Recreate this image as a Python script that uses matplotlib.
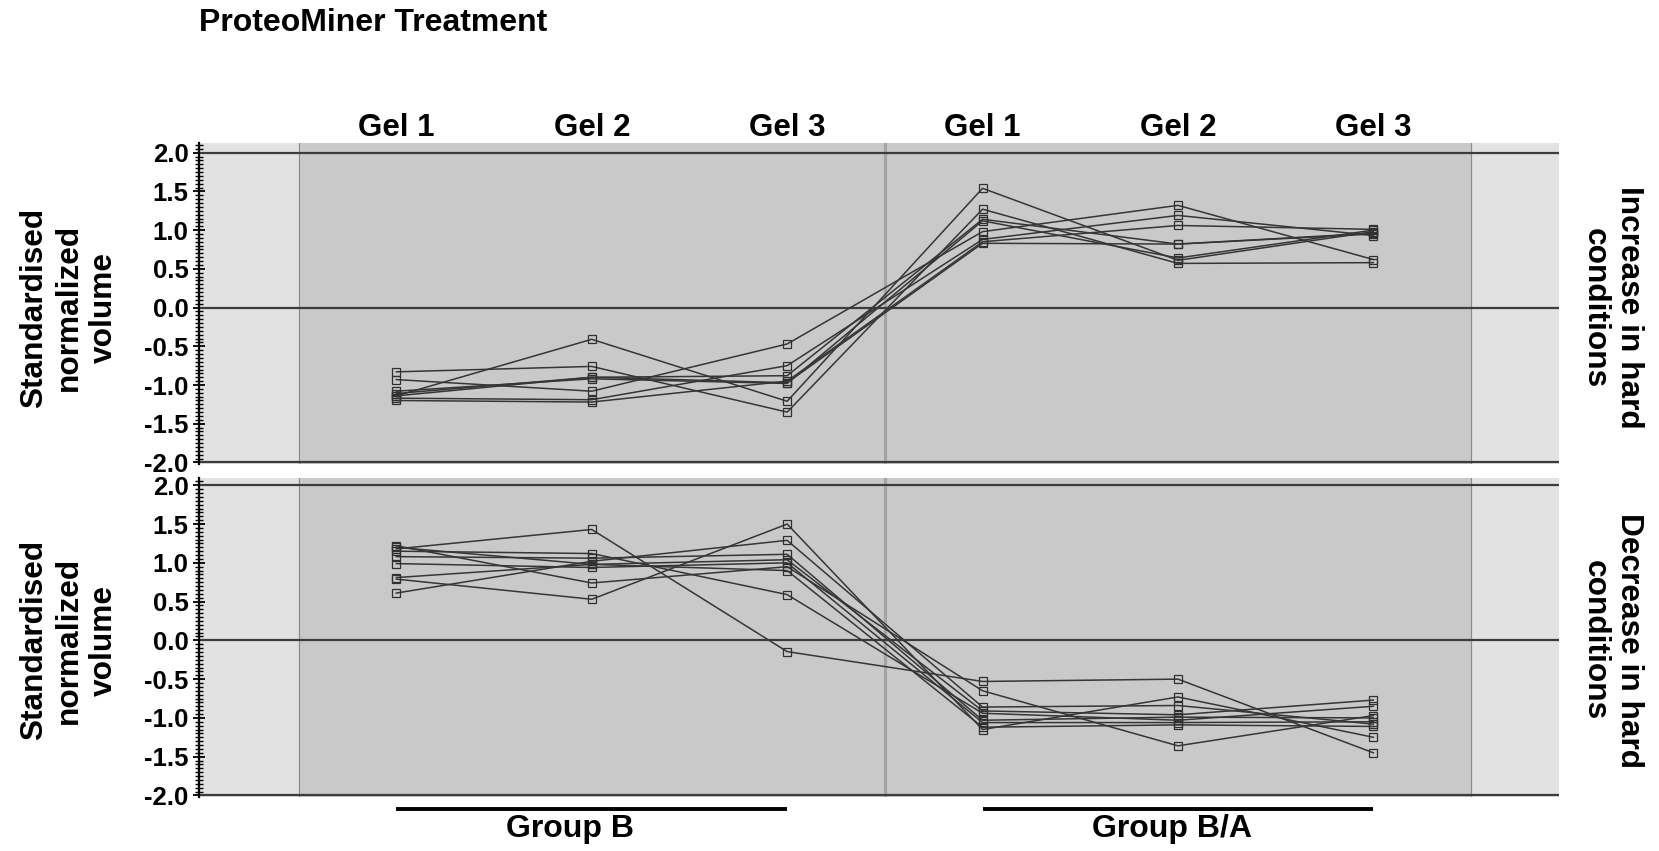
import numpy as np
import matplotlib
matplotlib.use("Agg")
from matplotlib import pyplot as plt
from matplotlib.ticker import MultipleLocator
from matplotlib.lines import Line2D
from matplotlib.transforms import blended_transform_factory

plt.rcParams["font.family"] = ["Liberation Sans", "DejaVu Sans"]
plt.rcParams["font.weight"] = "bold"
plt.rcParams["axes.unicode_minus"] = False

# Columns: Group B gel 1-3, then Group B/A gel 1-3
gels = ["Gel 1", "Gel 2", "Gel 3", "Gel 1", "Gel 2", "Gel 3"]
groups = ["Group B", "Group B/A"]
row_labels = ["Increase in hard\nconditions", "Decrease in hard\nconditions"]
ylabel = "Standardised\nnormalized\nvolume"
title = "ProteoMiner Treatment"

increase = [
    [-1.14, -0.41, -1.21, 1.54, 0.61, 0.98],
    [-0.83, -0.76, -1.35, 1.27, 0.57, 0.58],
    [-0.93, -1.08, -0.47, 0.98, 1.32, 0.62],
    [-1.11, -0.90, -0.88, 1.14, 0.82, 0.95],
    [-1.17, -1.19, -0.75, 0.88, 1.19, 0.93],
    [-1.20, -1.22, -0.95, 0.85, 1.06, 1.01],
    [-1.08, -0.92, -0.98, 1.12, 0.64, 1.00],
    [-1.14, -0.90, -0.97, 0.83, 0.82, 0.96],
]

decrease = [
    [1.18, 1.43, -0.145, -0.53, -0.50, -1.45],
    [0.79, 0.53, 1.50, -1.15, -0.73, -1.25],
    [1.22, 0.74, 0.95, -0.65, -1.36, -0.97],
    [0.61, 1.02, 1.29, -0.86, -0.84, -1.08],
    [0.81, 0.98, 1.04, -0.91, -0.96, -0.77],
    [1.15, 1.12, 0.59, -0.94, -1.03, -0.85],
    [1.08, 1.06, 1.11, -1.03, -0.99, -1.00],
    [0.99, 0.94, 1.00, -1.06, -1.06, -1.05],
    [1.20, 0.98, 0.90, -1.12, -1.09, -1.11],
]

x = np.arange(1, 7)
yticks = np.arange(-2.0, 2.01, 0.5)

W, H = 1659, 851
fig = plt.figure(figsize=(W / 100, H / 100), dpi=100)

# axes boxes in pixels: left, top, right, bottom
boxes = [(199, 143, 1559, 464), (199, 478, 1559, 797)]
ylims = [(-2.02, 2.125), (-2.02, 2.094)]
axes = []
for (l, t, r, b), yl in zip(boxes, ylims):
    ax = fig.add_axes([l / W, 1 - b / H, (r - l) / W, (b - t) / H])
    ax.set_xlim(-0.01, 6.95)
    ax.set_ylim(*yl)
    ax.set_facecolor("#e2e2e2")
    axes.append(ax)

for ax, data, lab in zip(axes, [increase, decrease], row_labels):
    ax.axvspan(0.5, 6.5, color="#c9c9c9", zorder=0)
    ax.axvline(0.5, color="#8a8a8a", lw=0.8, zorder=1)
    ax.axvline(6.5, color="#8a8a8a", lw=0.8, zorder=1)
    ax.axvline(3.5, color="#a4a4a4", lw=2.2, zorder=1)
    for yv in (2.0, 0.0, -2.0):
        ax.axhline(yv, color="#3c3c3c", lw=1.6, zorder=2)
    for row in data:
        ax.plot(x, row, color="#363636", lw=1.1, marker="s", ms=5.2,
                mfc="none", mec="#303030", mew=0.9, zorder=3)

    for s in ("top", "right", "bottom"):
        ax.spines[s].set_visible(False)
    ax.spines["left"].set_linewidth(1.6)
    ax.set_xticks([])
    ax.yaxis.set_minor_locator(MultipleLocator(0.05))
    ax.set_yticks(yticks)
    ax.set_yticklabels([f"{v:.1f}" for v in yticks],
                       fontsize=18.5, fontweight="bold")
    ax.tick_params(axis="y", which="major", direction="inout", length=9,
                   width=1.3, pad=3)
    ax.tick_params(axis="y", which="minor", direction="inout", length=6,
                   width=1.0)

    # y centre of the -2..2 range, in figure fraction
    y0 = ax.transData.transform((0, -2.0))[1]
    y1 = ax.transData.transform((0, 2.0))[1]
    yc = (y0 + y1) / 2 / H
    fig.text(0.0416, yc, ylabel, rotation=90, ha="center", va="center",
             fontsize=22.8, fontweight="bold", linespacing=1.2)
    fig.text(0.9717, yc, lab, rotation=270, ha="center", va="center",
             fontsize=22.8, fontweight="bold", linespacing=1.2)

# gel labels above the top panel
trans_top = blended_transform_factory(axes[0].transData, fig.transFigure)
for xi, g in zip(x, gels):
    axes[0].text(xi, 1 - 128 / H, g, transform=trans_top, ha="center",
                 va="center", fontsize=22.5, fontweight="bold")

# group bars under the bottom panel
trans_bot = blended_transform_factory(axes[1].transData, fig.transFigure)
for (xa, xb), g, tx in zip([(1, 3), (4, 6)], groups, [1.89, 4.97]):
    fig.add_artist(Line2D([xa, xb], [1 - 809 / H] * 2, transform=trans_bot,
                          color="black", lw=2.8, solid_capstyle="butt"))
    fig.text(tx, 1 - 829 / H, g, transform=trans_bot, ha="center",
             va="center", fontsize=23, fontweight="bold")

fig.text(199 / W, 1 - 23 / H, title, ha="left", va="center",
         fontsize=23, fontweight="bold")

fig.savefig("out.png", dpi=100)
